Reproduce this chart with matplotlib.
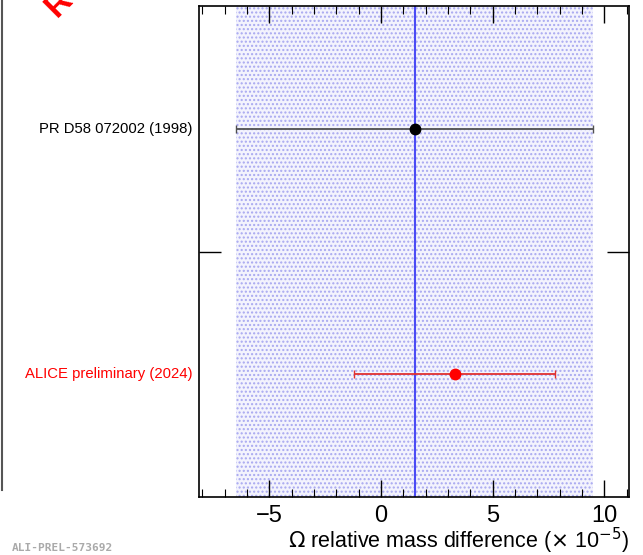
import matplotlib
matplotlib.use("Agg")
import matplotlib.pyplot as plt
from matplotlib.lines import Line2D
from matplotlib.ticker import MultipleLocator, FixedLocator

plt.rcParams['font.family'] = ['Liberation Sans', 'DejaVu Sans']

# data
labels = ["PR D58 072002 (1998)", "ALICE preliminary (2024)"]
label_colors = ["black", "red"]
values = [1.5, 3.3]
errors = [8.0, 4.5]
ypos = [1.5, 0.5]
point_colors = ["black", "red"]
line_colors = ["#505050", "#e03030"]
avg_value = 1.5
avg_error = 8.0

fig = plt.figure(figsize=(6.43, 5.55), dpi=100)
ax = fig.add_axes([199/643, 58/555, 430/643, 491/555])

ax.set_xlim(-8.15, 11.1)
ax.set_ylim(0, 2)

# band
ax.axvspan(avg_value - avg_error, avg_value + avg_error, facecolor="#f3f3fd",
           edgecolor="#a8a8f0", hatch="....", linewidth=0, zorder=0)
ax.axvline(avg_value, color="#4b4bf5", lw=1.5, zorder=1)

for v, e, y, pc, lc in zip(values, errors, ypos, point_colors, line_colors):
    ax.errorbar(v, y, xerr=e, fmt='o', color=pc, ecolor=lc, elinewidth=1.3,
                capsize=3, capthick=1.0, markersize=7.5, zorder=3)

for lab, c, y in zip(labels, label_colors, ypos):
    ax.text(-0.015, y, lab, color=c, fontsize=10.7, ha='right', va='center',
            transform=ax.get_yaxis_transform())

ax.xaxis.set_major_locator(MultipleLocator(5))
ax.xaxis.set_minor_locator(MultipleLocator(1))
ax.yaxis.set_major_locator(FixedLocator([1]))
ax.tick_params(axis='x', which='major', direction='in', length=12, width=1,
               top=True, bottom=True, labelsize=17, pad=6)
ax.tick_params(axis='x', which='minor', direction='in', length=6, width=0.8,
               top=True, bottom=True)
ax.tick_params(axis='y', which='major', direction='in', length=16, width=1,
               left=True, right=True, labelleft=False)
for s in ax.spines.values():
    s.set_linewidth(1.2)

ax.set_xlabel(r"$\Omega$ relative mass difference ($\times$ 10$^{-5}$)",
              fontsize=15.5, labelpad=0)
ax.xaxis.set_label_coords(1.0, -0.058)
ax.xaxis.label.set_ha('right')

# cropped artifacts from original figure
fig.add_artist(Line2D([2/643, 2/643], [1.0, 65/555], color="#555555", lw=1.5,
                      transform=fig.transFigure))
fig.text(12/643, 2/555, "ALI-PREL-573692", color="#aaaaaa", fontsize=8,
         family="DejaVu Sans Mono", fontweight='bold', ha='left', va='bottom')
fig.text(40/643, 532/555, "R", color="red", fontsize=24, rotation=45,
         ha='left', va='bottom', fontweight='bold')

fig.savefig("out.png", dpi=100)
